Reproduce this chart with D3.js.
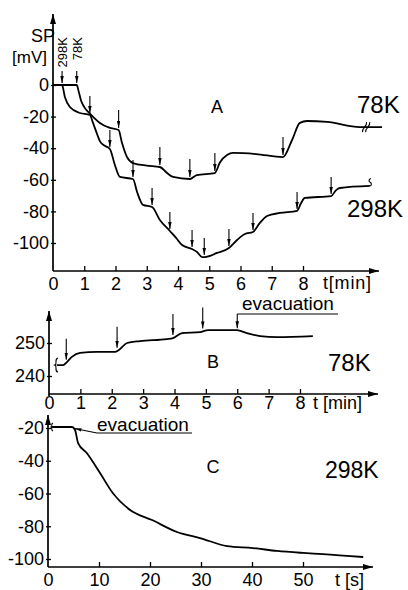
<!DOCTYPE html>
<html><head><meta charset="utf-8">
<script src="https://cdn.jsdelivr.net/npm/d3@7"></script>
<style>body{margin:0;background:#fff}svg{display:block;background:#fff}text{font-family:"Liberation Sans",Arial,sans-serif;fill:#000}</style>
</head><body><svg id="c" width="408" height="590"></svg>
<script>
// ---------- DATA ----------
// Panel A: SP [mV] vs t [min]
const A_ticksX = [0,1,2,3,4,5,6,7,8];
const A_ticksY = [0,-20,-40,-60,-80,-100];
const A78_t = [0,0.76,0.82,0.9,1.0,1.15,1.3,1.5,1.8,2.1,2.2,2.37,2.56,3.0,3.42,3.65,3.84,4.38,4.6,5.18,5.34,5.57,5.76,6.5,7.36,7.65,7.9,8.13,8.77,9.82,10.53];
const A78_v = [0,0,-4,-10,-14,-17.5,-20.5,-24,-27,-28.5,-36,-45.6,-49.4,-51,-51.9,-55.7,-58.2,-59.5,-57,-55.7,-49,-44.3,-43,-43.7,-45.6,-34.8,-24,-22.8,-23.4,-26.6,-26.6];
const A298_t = [0,0.29,0.38,0.54,0.86,1.18,1.28,1.41,1.5,1.66,1.82,1.98,2.14,2.56,2.69,2.88,3.17,3.42,3.74,3.94,4.13,4.45,4.61,4.77,4.86,5.25,5.63,5.89,6.14,6.4,6.62,6.85,7.26,7.81,7.94,8.06,8.9,9.06,9.18,10.14];
const A298_v = [0,0,-7.6,-13.9,-17.7,-19,-24,-31,-35.5,-38.5,-40.5,-50.6,-58.2,-59.5,-67.7,-75.9,-77.2,-85.4,-92.4,-96.8,-101.3,-103.8,-105.7,-108.9,-108.9,-106.3,-103.2,-98.1,-94.3,-93,-87.3,-82.9,-81,-79.7,-74.7,-71.5,-70.3,-66.5,-65.2,-63.9];
const A78_arrows = [2.1,3.42,4.38,5.18,7.36];
const A298_arrows = [1.18,1.82,2.56,3.17,3.74,4.45,4.84,5.63,6.4,7.81,8.9];
const A_startArrows = [{t:0.29,label:"298K"},{t:0.76,label:"78K"}];

// Panel B: 78K
const B_ticksX = [0,1,2,3,4,5,6,7,8];
const B_ticksY = [240,250];
const B_t = [0.25,0.45,0.57,0.73,0.99,1.53,2.1,2.23,2.49,2.9,3.76,3.95,4.24,4.81,5.07,5.86,5.99,6.31,6.73,7.27,8.41];
const B_v = [243.3,243.3,244.2,245.8,247,247.3,247.3,247.9,250,250.6,251.2,251.5,253,253.3,253.9,253.9,253.9,253,252.1,251.8,252.1];
const B_arrows = [0.55,2.17,3.95,4.9];
const B_evac = 6.0;

// Panel C: 298K, t [s]
const C_ticksX = [0,10,20,30,40,50];
const C_ticksY = [-20,-40,-60,-80,-100];
const C_t = [0.8,4.7,5.3,5.9,7.6,10.2,12.7,16.1,20.4,25.3,29.8,35.1,40.2,44.9,50,53.9,61.8];
const C_v = [-19.4,-19.4,-21.2,-29.2,-35.3,-47.5,-59.7,-70.1,-76.2,-83.5,-87.2,-92.1,-93.3,-95.1,-96.3,-97,-98.8];
const C_evac = 5.0;

// ---------- DRAW ----------
const svg = d3.select("#c");
const defs = svg.append("defs");
defs.append("marker").attr("id","ah").attr("viewBox","0 0 8 4").attr("refX",8).attr("refY",2)
  .attr("markerWidth",7).attr("markerHeight",3.6).attr("markerUnits","userSpaceOnUse").attr("orient","auto")
  .append("path").attr("d","M0,0L8,2L0,4Z").attr("fill","#000");
defs.append("marker").attr("id","ax").attr("viewBox","0 0 10 6").attr("refX",10).attr("refY",3)
  .attr("markerWidth",11).attr("markerHeight",6).attr("markerUnits","userSpaceOnUse").attr("orient","auto")
  .append("path").attr("d","M0,0L10,3L0,6Z").attr("fill","#000");

const FONT = '"Liberation Sans",Arial,sans-serif';
function interp(ts, vs, t){
  const i = Math.max(0, Math.min(ts.length-2, d3.bisectRight(ts,t)-1));
  const f = (t-ts[i])/(ts[i+1]-ts[i]);
  return vs[i] + f*(vs[i+1]-vs[i]);
}
function curve(x, y, ts, vs){
  const line = d3.line().x(d=>x(d[0])).y(d=>y(d[1])).curve(d3.curveMonotoneX);
  svg.append("path").attr("d", line(d3.zip(ts,vs))).attr("fill","none")
    .attr("stroke","#000").attr("stroke-width",1.8).attr("stroke-linejoin","round");
}
function arrowLine(x1,y1,x2,y2){
  svg.append("line").attr("x1",x1).attr("y1",y1).attr("x2",x2).attr("y2",y2)
    .attr("stroke","#000").attr("stroke-width",1.1).attr("marker-end","url(#ah)");
}
function axisLine(x1,y1,x2,y2){
  svg.append("line").attr("x1",x1).attr("y1",y1).attr("x2",x2).attr("y2",y2)
    .attr("stroke","#000").attr("stroke-width",1.7).attr("marker-end","url(#ax)");
}
function styleAxis(g, fs){
  g.select(".domain").remove();
  g.attr("font-family",FONT).attr("font-size",fs);
  g.selectAll(".tick line").attr("stroke","#000").attr("stroke-width",1.3);
  g.selectAll(".tick text").attr("fill","#000");
}
function label(x,y,txt,fs,anchor){
  return svg.append("text").attr("x",x).attr("y",y).attr("font-size",fs)
    .attr("text-anchor",anchor||"start").text(txt);
}
function xAxis(x, ticks, yPos, pad){
  svg.append("g").attr("transform",`translate(0,${yPos})`)
    .call(d3.axisBottom(x).tickValues(ticks).tickSize(-5).tickPadding(pad).tickFormat(d=>String(d)))
    .call(g=>styleAxis(g,18))
    .call(g=>g.selectAll(".tick").filter(d=>d===0).select("line").remove());
}
function yAxis(y, ticks, xPos){
  svg.append("g").attr("transform",`translate(${xPos},0)`)
    .call(d3.axisLeft(y).tickValues(ticks).tickSize(3).tickPadding(1).tickFormat(d=>String(d)))
    .call(g=>styleAxis(g,18))
    .call(g=>g.selectAll(".tick line").attr("x1",3).attr("x2",-2));
}

// ---- Panel A ----
const xA = d3.scaleLinear().domain([0,8]).range([53,303]);
const yA = d3.scaleLinear().domain([0,-100]).range([85,243]);
const A_axisY = 271;
xAxis(xA, A_ticksX, A_axisY, 6);
yAxis(yA, A_ticksY, xA(0));
axisLine(xA(0), A_axisY, 379, A_axisY);
axisLine(xA(0), A_axisY, xA(0), 14);
curve(xA, yA, A78_t, A78_v);
curve(xA, yA, A298_t, A298_v);
A78_arrows.forEach(t=>{ const yy = yA(interp(A78_t,A78_v,t))-2; arrowLine(xA(t), yy-18, xA(t), yy); });
A298_arrows.forEach(t=>{ const yy = yA(interp(A298_t,A298_v,t))-2; arrowLine(xA(t), yy-17, xA(t), yy); });
A_startArrows.forEach(d=>{
  const x = xA(d.t), yy = yA(0)-2;
  arrowLine(x, yy-12, x, yy);
  svg.append("text").attr("transform",`translate(${x+5},37) rotate(-90)`).attr("font-size",13)
    .attr("text-anchor","end").text(d.label);
});
// break marks at curve ends
{
  const tb = 10.02, xb = xA(tb), yb = yA(interp(A78_t,A78_v,tb));
  [-1.6,1.6].forEach(o=>{
    svg.append("path").attr("d",`M${xb+o-2},${yb+5} C${xb+o-3},${yb+1} ${xb+o+3},${yb-1} ${xb+o+2},${yb-5}`)
      .attr("fill","#fff").attr("stroke","#000").attr("stroke-width",1.1);
  });
  const te = A298_t[A298_t.length-1], xe = xA(te), ye = yA(A298_v[A298_v.length-1]);
  svg.append("path").attr("d",`M${xe},${ye} c2,-0.5 2,-3 0,-4 c-1.5,-0.8 -1,-3 1,-3.5`)
    .attr("fill","none").attr("stroke","#000").attr("stroke-width",1.1);
}
label(31, 42, "SP", 18);
label(12, 63, "[mV]", 17);
label(217, 113, "A", 18, "middle");
label(357, 113, "78K", 24);
label(347, 217, "298K", 24);
label(323, 289, "t[min]", 18).attr("letter-spacing",0.8);

// ---- Panel B ----
const xB = d3.scaleLinear().domain([0,8]).range([49,300]);
const yB = d3.scaleLinear().domain([240,250]).range([376,343]);
const B_axisY = 394;
xAxis(xB, B_ticksX, B_axisY, 2);
yAxis(yB, B_ticksY, xB(0));
axisLine(xB(0), B_axisY+2, xB(0), 311);
axisLine(xB(0), B_axisY, 378, B_axisY);
curve(xB, yB, B_t, B_v);
{
  const xs = xB(B_t[0]), ys = yB(B_v[0]);
  svg.append("path").attr("d",`M${xs+1},${ys-7} C${xs-3},${ys-6} ${xs+1},${ys-1} ${xs-2},${ys} C${xs+1},${ys+1} ${xs-3},${ys+6} ${xs+1},${ys+7}`)
    .attr("fill","none").attr("stroke","#000").attr("stroke-width",1.1);
}
B_arrows.forEach(t=>{ const yy = yB(interp(B_t,B_v,t))-3; arrowLine(xB(t), yy-21, xB(t), yy); });
{
  const xe = xB(B_evac), yy = yB(interp(B_t,B_v,B_evac))-2;
  svg.append("line").attr("x1",xe).attr("x2",338).attr("y1",314).attr("y2",314).attr("stroke","#000").attr("stroke-width",1.2);
  arrowLine(xe, 314, xe, yy);
  label(242, 310, "evacuation", 19);
}
label(213, 368, "B", 18, "middle");
label(328, 371, "78K", 24);
label(313, 409, "t [min]", 18);

// ---- Panel C ----
const xC = d3.scaleLinear().domain([0,50]).range([48,303]);
const yC = d3.scaleLinear().domain([-20,-100]).range([428,559]);
const C_axisY = 567;
xAxis(xC, C_ticksX, C_axisY, 6);
yAxis(yC, C_ticksY, xC(0));
axisLine(xC(0), C_axisY, xC(0), 415);
axisLine(xC(0), C_axisY, 373, C_axisY);
curve(xC, yC, C_t, C_v);
{
  const xs = xC(C_t[0]), ys = yC(C_v[0]);
  svg.append("path").attr("d",`M${xs+1},${ys-4} C${xs-2},${ys-3} ${xs+1},${ys-1} ${xs-1},${ys} C${xs+1},${ys+1} ${xs-2},${ys+3} ${xs+1},${ys+4}`)
    .attr("fill","none").attr("stroke","#000").attr("stroke-width",1.1);
  const xe = xC(C_evac)+1, ye = yC(interp(C_t,C_v,C_evac));
  svg.append("line").attr("x1",97).attr("x2",192).attr("y1",433).attr("y2",433).attr("stroke","#000").attr("stroke-width",1.2);
  arrowLine(97, 433, xe, ye);
  label(97, 431, "evacuation", 19);
}
label(213, 473, "C", 18, "middle");
label(325, 478, "298K", 23);
label(335, 586, "t [s]", 18);
</script></body></html>
